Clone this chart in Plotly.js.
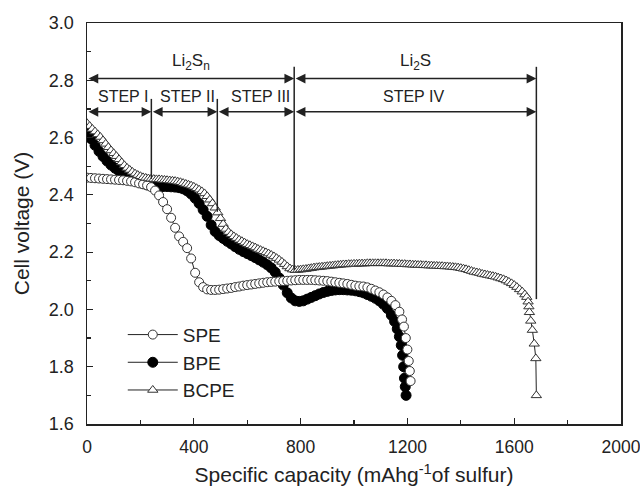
<!DOCTYPE html>
<html>
<head>
<meta charset="utf-8">
<script src="https://cdn.plot.ly/plotly-3.0.1.min.js"></script>
<style>html,body{margin:0;padding:0;background:#fff;}#chart{width:640px;height:494px;}</style>
</head>
<body>
<div id="chart"></div>
<script>
// ---- data ----
const speX = [0,15,30,45,60,75,90,105,120,135,150,165,180,195,210,225,240,255,270,285,300,315,330,345,360,375,390,405,420,435,450,465,480,495,510,525,540,555,570,585,600,615,630,645,660,675,690,705,720,735,750,765,780,795,810,825,840,855,870,885,900,915,930,945,960,975,990,1005,1020,1035,1050,1065,1080,1095,1110,1125,1140,1155,1170,1180,1187,1194,1200,1205,1209,1212];
const speV = [2.460,2.459,2.458,2.457,2.456,2.455,2.454,2.453,2.452,2.451,2.449,2.447,2.444,2.440,2.437,2.433,2.427,2.415,2.398,2.375,2.350,2.320,2.285,2.255,2.236,2.214,2.178,2.128,2.095,2.078,2.070,2.068,2.068,2.069,2.071,2.073,2.075,2.078,2.080,2.083,2.085,2.087,2.089,2.091,2.093,2.095,2.096,2.097,2.098,2.099,2.100,2.101,2.102,2.103,2.103,2.103,2.103,2.102,2.101,2.100,2.099,2.097,2.095,2.093,2.091,2.089,2.086,2.083,2.081,2.080,2.077,2.072,2.066,2.060,2.052,2.042,2.030,2.015,1.992,1.965,1.940,1.900,1.860,1.820,1.785,1.750];

const bpeX = [0,15,30,45,60,75,90,105,120,135,150,165,180,195,210,225,240,255,270,285,300,315,330,345,360,375,390,405,420,435,450,465,480,495,510,525,540,555,570,585,600,615,630,645,660,675,690,705,720,735,750,765,780,795,810,825,840,855,870,885,900,915,930,945,960,975,990,1005,1020,1035,1050,1065,1080,1095,1110,1125,1140,1152,1162,1170,1177,1182,1186,1189,1192,1195];
const bpeV = [2.620,2.596,2.573,2.552,2.534,2.518,2.504,2.493,2.483,2.474,2.466,2.457,2.450,2.444,2.439,2.435,2.432,2.430,2.429,2.429,2.429,2.428,2.427,2.425,2.421,2.414,2.403,2.388,2.370,2.348,2.325,2.295,2.272,2.258,2.248,2.238,2.229,2.219,2.210,2.202,2.195,2.188,2.181,2.173,2.165,2.156,2.145,2.130,2.110,2.085,2.058,2.040,2.030,2.028,2.030,2.036,2.042,2.048,2.054,2.059,2.063,2.066,2.068,2.069,2.069,2.068,2.067,2.065,2.062,2.058,2.052,2.046,2.039,2.030,2.018,2.003,1.980,1.958,1.932,1.905,1.875,1.840,1.800,1.760,1.730,1.700];

const bcpeX = [0,10,20,30,40,50,60,70,80,90,100,110,120,130,140,150,160,170,180,190,200,210,220,230,240,250,260,270,280,290,300,310,320,330,340,350,360,370,380,390,400,410,420,430,440,450,460,470,480,490,500,510,520,530,540,550,560,570,580,590,600,610,620,630,640,650,660,670,680,690,700,710,720,730,740,750,760,770,780,790,800,810,820,830,840,850,860,870,880,890,900,910,920,930,940,950,960,970,980,990,1000,1010,1020,1030,1040,1050,1060,1070,1080,1090,1100,1110,1120,1130,1140,1150,1160,1170,1180,1190,1200,1210,1220,1230,1240,1250,1260,1270,1280,1290,1300,1310,1320,1330,1340,1350,1360,1370,1380,1390,1400,1410,1420,1430,1440,1450,1460,1470,1480,1490,1500,1510,1520,1530,1540,1550,1560,1570,1580,1590,1600,1610,1620,1630,1640,1647,1652,1655,1657,1662,1668,1675,1681,1683];
const bcpeV = [2.650,2.640,2.630,2.621,2.611,2.602,2.590,2.578,2.566,2.555,2.545,2.535,2.524,2.513,2.503,2.494,2.487,2.480,2.474,2.469,2.465,2.461,2.459,2.457,2.456,2.455,2.454,2.454,2.453,2.452,2.451,2.450,2.449,2.448,2.446,2.444,2.441,2.438,2.435,2.432,2.428,2.423,2.418,2.412,2.405,2.395,2.383,2.370,2.355,2.338,2.318,2.298,2.281,2.270,2.262,2.255,2.249,2.243,2.238,2.233,2.228,2.224,2.220,2.216,2.211,2.207,2.203,2.199,2.195,2.190,2.185,2.179,2.173,2.166,2.158,2.150,2.143,2.139,2.137,2.138,2.139,2.140,2.141,2.143,2.144,2.146,2.147,2.148,2.149,2.150,2.151,2.152,2.153,2.154,2.155,2.156,2.157,2.157,2.158,2.158,2.159,2.159,2.160,2.160,2.160,2.161,2.161,2.161,2.161,2.161,2.161,2.161,2.161,2.160,2.160,2.160,2.159,2.159,2.158,2.158,2.157,2.157,2.156,2.156,2.155,2.155,2.154,2.154,2.153,2.153,2.152,2.152,2.151,2.151,2.150,2.150,2.149,2.148,2.147,2.146,2.144,2.142,2.140,2.137,2.134,2.131,2.129,2.127,2.124,2.122,2.120,2.118,2.116,2.114,2.111,2.108,2.105,2.101,2.096,2.091,2.085,2.078,2.070,2.062,2.052,2.043,2.027,2.010,1.990,1.960,1.928,1.880,1.829,1.700];

const seriesNames = ['SPE','BPE','BCPE'];
// step boundaries on the capacity axis, and where each marker line meets the curves
const stepBounds = [0, 241, 488, 776, 1683];
const stepLineTop = [null, 2.735, 2.735, 2.847, 2.847];
const stepLineBottom = [null, 2.456, 2.341, 2.138, 2.036];
const stepLabels = ['STEP I','STEP II','STEP III','STEP IV'];
const stepLabelX = [133, 375, 648, 1223];
const phaseLabels = ['Li<sub>2</sub>S<sub>n</sub>','Li<sub>2</sub>S'];
const phaseBounds = [0, 776, 1683];

const xTicks = [0,400,800,1200,1600,2000];
const yTicks = [1.6,1.8,2.0,2.2,2.4,2.6,2.8,3.0];

const FONT = 'Liberation Sans, Arial, Helvetica, sans-serif';
const INK = '#222';

const traces = [
  {x: bpeX, y: bpeV, name: seriesNames[1], legendrank: 2, mode: 'lines+markers',
   line: {color: INK, width: 1},
   marker: {symbol: 'circle', size: 10, color: '#000', line: {color: '#000', width: 1}}},
  {x: speX, y: speV, name: seriesNames[0], legendrank: 1, mode: 'lines+markers',
   line: {color: INK, width: 1},
   marker: {symbol: 'circle', size: 9, color: '#fff', line: {color: '#333', width: 1}}},
  {x: bcpeX, y: bcpeV, name: seriesNames[2], legendrank: 3, mode: 'lines+markers',
   line: {color: INK, width: 1},
   marker: {symbol: 'triangle-up', size: 9, color: '#fff', line: {color: '#333', width: 1}}}
];

const shapes = [];
for (let i = 1; i < stepBounds.length; i++) {
  shapes.push({type: 'line', xref: 'x', yref: 'y', x0: stepBounds[i], x1: stepBounds[i],
    y0: stepLineTop[i], y1: stepLineBottom[i], line: {color: INK, width: 1.5}});
}

const annotations = [];
const arrowUpperY = 2.806, arrowLowerY = 2.690;
function dblArrow(xa, xb, yv) {
  annotations.push({xref: 'x', yref: 'y', axref: 'x', ayref: 'y', x: xb, y: yv, ax: xa, ay: yv,
    text: '', showarrow: true, arrowside: 'end+start', arrowhead: 2, startarrowhead: 2,
    arrowsize: 1.3, startarrowsize: 1.3, arrowwidth: 1.5, arrowcolor: INK, standoff: 0, startstandoff: 0});
}
for (let i = 0; i < phaseBounds.length - 1; i++) dblArrow(phaseBounds[i], phaseBounds[i + 1], arrowUpperY);
for (let i = 0; i < stepBounds.length - 1; i++) dblArrow(stepBounds[i], stepBounds[i + 1], arrowLowerY);
for (let i = 0; i < phaseLabels.length; i++) {
  annotations.push({xref: 'x', yref: 'y', x: (phaseBounds[i] + phaseBounds[i + 1]) / 2, y: 2.864,
    text: phaseLabels[i], showarrow: false, font: {family: FONT, size: 17, color: INK}});
}
for (let i = 0; i < stepLabels.length; i++) {
  annotations.push({xref: 'x', yref: 'y', x: stepLabelX[i], y: 2.745,
    text: stepLabels[i], showarrow: false, font: {family: FONT, size: 16, color: INK}});
}

const layout = {
  width: 640, height: 494,
  margin: {l: 87, r: 19, t: 23, b: 70},
  paper_bgcolor: '#fff', plot_bgcolor: '#fff',
  font: {family: FONT, size: 18, color: INK},
  showlegend: true,
  legend: {x: 0.067, y: 0.27, xanchor: 'left', yanchor: 'top', bgcolor: 'rgba(0,0,0,0)',
    font: {family: FONT, size: 19, color: INK}, itemwidth: 50, tracegroupgap: 0},
  xaxis: {range: [0, 2000], tickvals: xTicks, ticktext: xTicks.map(String),
    ticks: 'inside', ticklen: 6, tickwidth: 1.2, tickcolor: INK,
    minor: {dtick: 200, ticks: 'inside', ticklen: 4, tickcolor: INK, tickwidth: 1.2},
    showline: true, linecolor: INK, linewidth: 1.5, mirror: true, showgrid: false, zeroline: false,
    ticklabelstandoff: 6, ticklabeloverflow: 'allow', tickfont: {family: FONT, size: 17.5, color: INK},
    title: {text: 'Specific capacity (mAhg<sup>-1</sup>of sulfur)', font: {family: FONT, size: 21, color: INK}, standoff: 12}},
  yaxis: {range: [1.6, 3.0], tickvals: yTicks, ticktext: yTicks.map(v => v.toFixed(1)),
    ticks: 'inside', ticklen: 6, tickwidth: 1.2, tickcolor: INK,
    minor: {dtick: 0.1, ticks: 'inside', ticklen: 4, tickcolor: INK, tickwidth: 1.2},
    showline: true, linecolor: INK, linewidth: 1.5, mirror: true, showgrid: false, zeroline: false,
    ticklabelstandoff: 8, tickfont: {family: FONT, size: 18, color: INK},
    title: {text: 'Cell voltage (V)', font: {family: FONT, size: 21, color: INK}, standoff: 13}},
  shapes: shapes,
  annotations: annotations
};

Plotly.newPlot('chart', traces, layout, {staticPlot: true, displayModeBar: false});
</script>
</body>
</html>
